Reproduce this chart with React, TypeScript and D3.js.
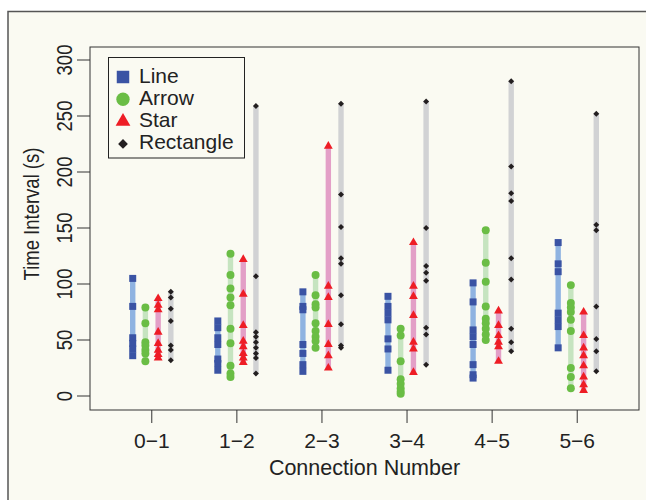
import React from "react";
import * as d3 from "d3";

// connection intervals
const categories = ["0\u22121", "1\u22122", "2\u22123", "3\u22124", "4\u22125", "5\u22126"];
const seriesNames = ["Line", "Arrow", "Star", "Rectangle"];

const lineValues = [
  [105, 80, 52, 47, 42, 36],
  [67, 61, 52, 46, 33, 29, 23],
  [93, 80, 77, 46, 38, 28, 22],
  [89, 80, 74, 68, 51, 42, 23],
  [101, 84, 59, 53, 46, 28, 19, 16],
  [137, 118, 111, 74, 68, 62, 43],
];
const arrowValues = [
  [79, 65, 48, 45, 41, 38, 31],
  [127, 108, 96, 88, 81, 60, 47, 27, 20, 17],
  [108, 90, 82, 79, 65, 58, 53, 49, 43],
  [60, 54, 31, 15, 11, 7, 4, 2],
  [148, 119, 102, 80, 69, 65, 60, 55, 50],
  [99, 83, 79, 75, 68, 58, 25, 17, 7],
];
const starValues = [
  [87, 81, 77, 57, 47, 41, 37, 34],
  [122, 91, 63, 49, 44, 38, 34, 30],
  [223, 98, 88, 64, 46, 36, 25],
  [137, 98, 89, 72, 48, 42, 21],
  [76, 63, 54, 48, 44, 31],
  [75, 54, 43, 36, 27, 17, 10, 5],
];
const rectValues = [
  [93, 88, 78, 67, 45, 41, 32],
  [259, 107, 57, 53, 48, 43, 38, 34, 20],
  [261, 180, 151, 123, 118, 90, 64, 45, 43],
  [263, 150, 116, 110, 103, 61, 55, 28],
  [281, 205, 181, 174, 123, 104, 60, 48, 40],
  [252, 153, 148, 80, 51, 40, 22],
];
const yTicks = [0, 50, 100, 150, 200, 250, 300];

const allValues = [lineValues, arrowValues, starValues, rectValues];
const offsets = [-0.224, -0.075, 0.075, 0.224];
const pointColors = ["#3a53a4", "#6abd45", "#ee1d25", "#231f20"];
const barColors = ["#8fb3e1", "#c6e4c0", "#e39fc7", "#d1d2d4"];
const symbolTypes = [d3.symbolSquare, d3.symbolCircle, d3.symbolTriangle, d3.symbolSquare];
const symbolSizes = [49, 50, 34, 18];
const legendSizes = [156, 140, 94, 48];

const font = "'Liberation Sans', Arial, Helvetica, sans-serif";

export default function App() {
  const box = { left: 90, right: 639, top: 47, bottom: 410 };

  const x = d3.scalePoint<string>().domain(categories).range([box.left, box.right]).padding(0.726);
  const step = x.step();
  const y = d3.scaleLinear().domain([0, 300]).range([396, 60]);

  const sym = (i: number, size: number) => d3.symbol().type(symbolTypes[i]).size(size)()!;
  const rot = (i: number) => (i === 3 ? " rotate(45)" : "");

  return (
    <svg width={646} height={500} style={{ position: "absolute", left: 0, top: 0, background: "#fff" }}>
      <rect x={8} y={11.5} width={700} height={600} fill="#fafaf2" stroke="#555" strokeWidth={1.5} />

      {/* bars then points */}
      {allValues.map((series, si) =>
        series.map((vals, ci) => {
          const cx = x(categories[ci])! + offsets[si] * step;
          const [lo, hi] = d3.extent(vals) as [number, number];
          return (
            <g key={`s${si}-${ci}`}>
              <rect x={cx - 2.7} width={5.4} y={y(hi)} height={y(lo) - y(hi)} fill={barColors[si]} />
              {vals.map((v, k) => (
                <path key={k} d={sym(si, symbolSizes[si])} transform={`translate(${cx},${y(v)})${rot(si)}`} fill={pointColors[si]} />
              ))}
            </g>
          );
        })
      )}

      <rect x={box.left} y={box.top} width={box.right - box.left} height={box.bottom - box.top} fill="none" stroke="#333" strokeWidth={1} />

      {/* y axis */}
      {yTicks.map((t) => (
        <g key={t}>
          <line x1={77} x2={box.left} y1={y(t)} y2={y(t)} stroke="#333" />
          <text transform={`translate(72,${y(t)}) rotate(-90) scale(1,1.15)`} textAnchor="middle" fontFamily={font} fontSize={18.5} fill="#222">
            {t}
          </text>
        </g>
      ))}
      <text transform="translate(39,214) rotate(-90) scale(1,1.15)" textAnchor="middle" fontFamily={font} fontSize={18.5} fill="#222">
        Time Interval (s)
      </text>

      {/* x axis */}
      {categories.map((c) => (
        <g key={c}>
          <line x1={x(c)} x2={x(c)} y1={box.bottom} y2={423} stroke="#333" />
          <text x={x(c)} y={448} textAnchor="middle" fontFamily={font} fontSize={21} fill="#222">
            {c}
          </text>
        </g>
      ))}
      <text x={(box.left + box.right) / 2} y={475} textAnchor="middle" fontFamily={font} fontSize={21.5} fill="#222">
        Connection Number
      </text>

      {/* legend */}
      <rect x={108.5} y={57.5} width={136} height={100.5} fill="#fafaf2" stroke="#222" />
      {seriesNames.map((n, i) => (
        <g key={n} transform={`translate(0,${77 + i * 22.3})`}>
          <path d={sym(i, legendSizes[i])} transform={`translate(123,0)${rot(i)}`} fill={pointColors[i]} />
          <text x={139} y={5.5} fontFamily={font} fontSize={21} fill="#222">
            {n}
          </text>
        </g>
      ))}
    </svg>
  );
}
